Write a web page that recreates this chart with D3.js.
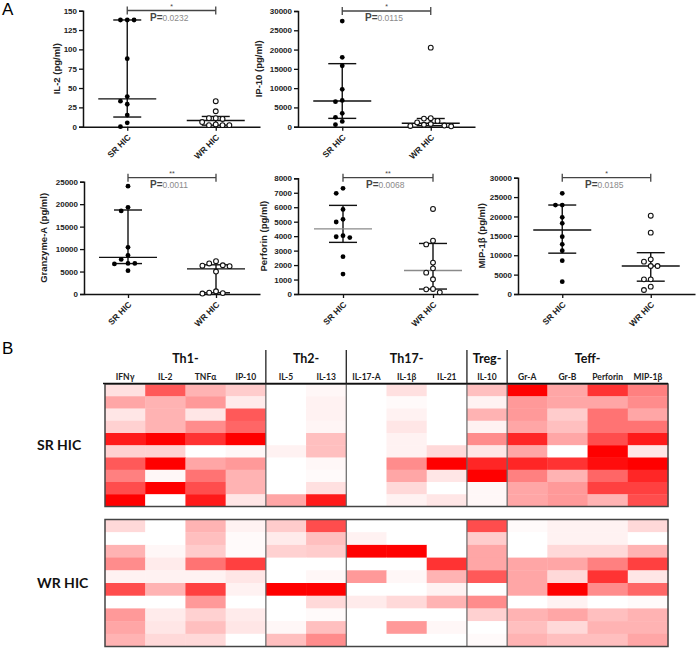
<!DOCTYPE html>
<html><head><meta charset="utf-8">
<script src="https://cdn.jsdelivr.net/npm/d3@7"></script>
<style>body{margin:0;background:#fff}svg{display:block}</style>
</head><body>
<svg id="c" width="696" height="650"></svg>
<script>
// ---------- Panel A data ----------
const groups = ["SR HIC", "WR HIC"];
const il2SR = [138, 138, 138, 88, 39, 33, 29, 15, 5, 0];
const il2WR = [33, 20, 11, 11, 10, 6, 3, 2, 2, 2];
const il2Ticks = [0, 25, 50, 75, 100, 125, 150];
const ip10SR = [27400, 17980, 15800, 9680, 6800, 6500, 3460, 2420, 1380, 520];
const ip10WR = [20500, 2200, 2100, 1500, 1100, 700, 500, 300, 200, 100];
const ip10Ticks = [0, 5000, 10000, 15000, 20000, 25000, 30000];
const grzSR = [24000, 19300, 18500, 10400, 8600, 7700, 6800, 6800, 6700, 5200];
const grzWR = [7300, 6800, 6400, 6300, 6200, 5000, 600, 300, 200, 100];
const grzTicks = [0, 5000, 10000, 15000, 20000, 25000];
const perfSR = [7310, 6960, 5850, 5160, 4980, 4030, 3960, 3900, 2580, 1380];
const perfWR = [5880, 3690, 3430, 2170, 1775, 1475, 1015, 350, 320, 115];
const perfTicks = [0, 1000, 2000, 3000, 4000, 5000, 6000, 7000, 8000];
const mipSR = [25960, 22950, 22950, 19770, 18220, 14790, 12810, 11180, 8600, 3180];
const mipWR = [20200, 15820, 8940, 8340, 7220, 7220, 3780, 3780, 1890, 1030];
const mipTicks = [0, 5000, 10000, 15000, 20000, 25000, 30000];
const yLabels = ["IL-2 (pg/ml)", "IP-10 (pg/ml)", "Granzyme-A (pg/ml)", "Perforin (pg/ml)", "MIP-1\u03B2 (pg/ml)"];
const pValues = ["0.0232", "0.0115", "0.0011", "0.0068", "0.0185"];
const stars = ["*", "*", "**", "**", "*"];

// ---------- Panel B data ----------
const heatCols = ["IFN\u03B3", "IL-2", "TNF\u03B1", "IP-10", "IL-5", "IL-13", "IL-17-A", "IL-1\u03B2", "IL-21", "IL-10", "Gr-A", "Gr-B", "Perforin", "MIP-1\u03B2"];
const heatGroupNames = ["Th1-", "Th2-", "Th17-", "Treg-", "Teff-"];
const heatGroupSizes = [4, 2, 3, 1, 4];
const heatRowGroups = ["SR HIC", "WR HIC"];
const srHeat = [
  [0.12, 0.65, 0.30, 0.20, 0.00, 0.03, 0.00, 0.12, 0.00, 0.25, 1.00, 0.35, 0.80, 0.50],
  [0.35, 0.30, 0.40, 0.08, 0.00, 0.05, 0.00, 0.02, 0.00, 0.05, 0.40, 0.35, 0.35, 0.45],
  [0.10, 0.30, 0.10, 0.65, 0.00, 0.05, 0.00, 0.05, 0.00, 0.30, 0.40, 0.20, 0.55, 0.35],
  [0.18, 0.30, 0.45, 0.60, 0.00, 0.04, 0.00, 0.10, 0.00, 0.05, 0.35, 0.25, 0.55, 0.55],
  [0.90, 1.00, 0.80, 1.00, 0.00, 0.25, 0.00, 0.05, 0.00, 0.45, 0.85, 0.35, 0.70, 0.90],
  [0.18, 0.18, 0.00, 0.03, 0.05, 0.25, 0.00, 0.05, 0.15, 0.10, 0.35, 0.00, 1.00, 0.10],
  [0.65, 1.00, 0.35, 0.40, 0.00, 0.03, 0.00, 0.45, 1.00, 0.85, 0.85, 0.80, 0.95, 1.00],
  [0.50, 0.03, 0.55, 0.30, 0.00, 0.02, 0.00, 0.35, 0.10, 1.00, 0.50, 0.30, 0.60, 0.85],
  [0.70, 1.00, 0.70, 0.30, 0.00, 0.12, 0.00, 0.15, 0.00, 0.03, 0.35, 0.40, 0.75, 0.75],
  [1.00, 0.00, 0.90, 0.10, 0.35, 0.90, 0.00, 0.05, 0.10, 0.03, 0.35, 0.40, 0.30, 0.70]
];
const wrHeat = [
  [0.15, 0.00, 0.30, 0.05, 0.20, 0.70, 0.00, 0.00, 0.00, 0.70, 0.02, 0.05, 0.05, 0.15],
  [0.00, 0.00, 0.25, 0.02, 0.08, 0.25, 0.05, 0.00, 0.00, 0.20, 0.00, 0.05, 0.05, 0.00],
  [0.30, 0.03, 0.20, 0.02, 0.18, 0.20, 1.00, 1.00, 0.00, 0.35, 0.00, 0.15, 0.15, 0.30],
  [0.45, 0.08, 0.55, 0.75, 0.00, 0.00, 0.00, 0.00, 0.80, 0.35, 0.35, 0.35, 0.50, 0.75],
  [0.05, 0.05, 0.05, 0.10, 0.00, 0.03, 0.40, 0.03, 0.30, 0.65, 0.35, 0.15, 0.80, 0.10],
  [0.70, 0.30, 0.75, 0.05, 1.00, 1.00, 0.00, 0.00, 0.05, 0.00, 0.35, 1.00, 0.45, 0.60],
  [0.00, 0.00, 0.40, 0.00, 0.00, 0.15, 0.08, 0.15, 0.30, 0.45, 0.00, 0.05, 0.00, 0.02],
  [0.40, 0.08, 0.18, 0.08, 0.00, 0.02, 0.00, 0.00, 0.00, 0.18, 0.30, 0.35, 0.25, 0.30],
  [0.35, 0.10, 0.25, 0.10, 0.03, 0.25, 0.00, 0.40, 0.03, 0.00, 0.25, 0.15, 0.30, 0.30],
  [0.30, 0.15, 0.15, 0.00, 0.25, 0.45, 0.00, 0.00, 0.00, 0.02, 0.30, 0.25, 0.25, 0.35]
];

// ---------- drawing ----------
const svg = d3.select("#c");
const SANS = "'Liberation Sans', Arial, sans-serif";
const CAL = "Lato, 'Open Sans', sans-serif";

svg.append("text").attr("x", 2).attr("y", 15).attr("font-family", SANS).attr("font-size", 17).text("A");
svg.append("text").attr("x", 2).attr("y", 354).attr("font-family", SANS).attr("font-size", 17).text("B");

const panels = [
  {sr: il2SR, wr: il2WR, ticks: il2Ticks, x: [83, 260], y: [126.7, 10.7], lx: 60, by: 10.5, px: 150, med: "#111"},
  {sr: ip10SR, wr: ip10WR, ticks: ip10Ticks, x: [298, 475], y: [126.7, 11], lx: 262, by: 11, px: 365, med: "#111"},
  {sr: grzSR, wr: grzWR, ticks: grzTicks, x: [84, 260], y: [294, 181.7], lx: 47, by: 177.7, px: 150, med: "#111"},
  {sr: perfSR, wr: perfWR, ticks: perfTicks, x: [298, 478], y: [294, 178.3], lx: 267, by: 177.7, px: 366, med: "#8a8a8a"},
  {sr: mipSR, wr: mipWR, ticks: mipTicks, x: [518, 695], y: [294, 177.7], lx: 485, by: 177.7, px: 585, med: "#111"}
];

function gpQuantile(vals, p) {
  const s = vals.slice().sort((a, b) => a - b);
  const n = s.length;
  let pos = (n + 1) * p;
  if (pos <= 1) return s[0];
  if (pos >= n) return s[n - 1];
  const lo = Math.floor(pos), f = pos - lo;
  return s[lo - 1] + f * (s[lo] - s[lo - 1]);
}

function swarm(vals, yS, cx, step, r) {
  const placed = [];
  return vals.map(v => {
    const py = yS(v);
    const offs = [0];
    for (let i = 1; i < 10; i++) offs.push(-i, i);
    let px = cx;
    for (const o of offs) {
      const cand = cx + o * step;
      const hit = placed.some(p => Math.abs(p.y - py) < 2 * r + 0.8 && Math.abs(p.x - cand) < step * 0.9);
      if (!hit) { px = cand; break; }
    }
    const pt = {x: px, y: py, v};
    placed.push(pt);
    return pt;
  });
}

panels.forEach((P, i) => {
  const g = svg.append("g");
  const x = d3.scalePoint().domain(groups).range(P.x).padding(0.5);
  const y = d3.scaleLinear().domain([0, d3.max(P.ticks)]).range(P.y);
  const y0 = y(0);

  // y axis
  const yAxis = d3.axisLeft(y).tickValues(P.ticks).tickFormat(d3.format("d")).tickSize(4).tickPadding(2);
  const ya = g.append("g").attr("transform", `translate(${P.x[0]},0)`).call(yAxis);
  ya.select(".domain").attr("stroke", "#111").attr("stroke-width", 1.5);
  ya.selectAll(".tick line").attr("stroke", "#111").attr("stroke-width", 1.3);
  ya.selectAll(".tick text").attr("font-family", SANS).attr("font-weight", "bold").attr("font-size", 8).attr("fill", "#222");

  // x axis
  const xAxis = d3.axisBottom(x).tickSize(4).tickSizeOuter(0).tickFormat("");
  const xa = g.append("g").attr("transform", `translate(0,${y0})`).call(xAxis);
  xa.select(".domain").attr("stroke", "#111").attr("stroke-width", 1.5);
  xa.selectAll(".tick line").attr("stroke", "#111").attr("stroke-width", 1.3);
  groups.forEach(gn => {
    const tx = x(gn) + 2, ty = y0 + 9;
    g.append("text").attr("transform", `translate(${tx},${ty}) rotate(-45)`)
      .attr("text-anchor", "end").attr("dy", "0.35em")
      .attr("font-family", SANS).attr("font-weight", "bold").attr("font-size", 8.5).attr("fill", "#222")
      .text(gn);
  });

  // y label
  g.append("text").attr("transform", `translate(${P.lx},${(P.y[0] + P.y[1]) / 2}) rotate(-90)`)
    .attr("text-anchor", "middle").attr("font-family", SANS).attr("font-weight", "bold")
    .attr("font-size", 9.5).attr("fill", "#222").text(yLabels[i]);

  // median + IQR
  [[P.sr, groups[0]], [P.wr, groups[1]]].forEach(([vals, gn]) => {
    const cx = x(gn);
    const q1 = gpQuantile(vals, 0.25), md = gpQuantile(vals, 0.5), q3 = gpQuantile(vals, 0.75);
    g.append("line").attr("x1", cx).attr("x2", cx).attr("y1", y(q1)).attr("y2", y(q3)).attr("stroke", "#111").attr("stroke-width", 1.4);
    g.append("line").attr("x1", cx - 14).attr("x2", cx + 14).attr("y1", y(q1)).attr("y2", y(q1)).attr("stroke", "#111").attr("stroke-width", 1.4);
    g.append("line").attr("x1", cx - 14).attr("x2", cx + 14).attr("y1", y(q3)).attr("y2", y(q3)).attr("stroke", "#111").attr("stroke-width", 1.4);
    g.append("line").attr("x1", cx - 29).attr("x2", cx + 29).attr("y1", y(md)).attr("y2", y(md)).attr("stroke", P.med).attr("stroke-width", 1.4);
  });

  // dots
  const r = 2.4;
  swarm(P.sr, y, x(groups[0]), 6.8, r).forEach(p => {
    g.append("circle").attr("cx", p.x).attr("cy", p.y).attr("r", r).attr("fill", "#000");
  });
  swarm(P.wr, y, x(groups[1]), 6.8, r).forEach(p => {
    g.append("circle").attr("cx", p.x).attr("cy", p.y).attr("r", r).attr("fill", "#fff").attr("stroke", "#111").attr("stroke-width", 1.1);
  });

  // significance bracket
  const xa1 = x(groups[0]), xa2 = x(groups[1]);
  g.append("line").attr("x1", xa1).attr("x2", xa2).attr("y1", P.by).attr("y2", P.by).attr("stroke", "#444").attr("stroke-width", 1.3);
  [xa1, xa2].forEach(xx => g.append("line").attr("x1", xx).attr("x2", xx).attr("y1", P.by - 4).attr("y2", P.by + 4).attr("stroke", "#444").attr("stroke-width", 1.3));
  g.append("text").attr("x", (xa1 + xa2) / 2).attr("y", P.by - 2).attr("text-anchor", "middle")
    .attr("font-family", SANS).attr("font-size", 7).attr("fill", "#444").text(stars[i]);
  const pt = g.append("text").attr("x", P.px).attr("y", P.by + 10).attr("font-family", SANS);
  pt.append("tspan").attr("font-size", 10).attr("font-weight", "bold").attr("fill", "#444").text("P=");
  pt.append("tspan").attr("font-size", 8.5).attr("fill", "#8a8a8a").text(pValues[i]);
});

// ---------- heatmap ----------
const color = d3.interpolateRgb("#ffffff", "#ff0000");
const hx = d3.scaleBand().domain(d3.range(heatCols.length)).range([105, 668]);
const blocks = [
  {data: srHeat, y: [384, 506.5], label: heatRowGroups[0]},
  {data: wrHeat, y: [519.5, 646.5], label: heatRowGroups[1]}
];
const hg = svg.append("g");
blocks.forEach(B => {
  const hy = d3.scaleBand().domain(d3.range(B.data.length)).range(B.y);
  B.data.forEach((row, ri) => row.forEach((v, ci) => {
    hg.append("rect").attr("x", hx(ci)).attr("y", hy(ri))
      .attr("width", hx.bandwidth() + 0.4).attr("height", hy.bandwidth() + 0.4)
      .attr("fill", color(v));
  }));
  let acc = 0;
  heatGroupSizes.slice(0, -1).forEach(n => {
    acc += n;
    const xx = hx(acc);
    hg.append("line").attr("x1", xx).attr("x2", xx).attr("y1", B.y[0]).attr("y2", B.y[1]).attr("stroke", "#666").attr("stroke-width", 1.2);
  });
  hg.append("rect").attr("x", 105).attr("y", B.y[0]).attr("width", 563).attr("height", B.y[1] - B.y[0])
    .attr("fill", "none").attr("stroke", "#444").attr("stroke-width", 1.5);
  hg.append("text").attr("x", 37).attr("y", (B.y[0] + B.y[1]) / 2 + 5)
    .attr("font-family", CAL).attr("font-weight", "bold").attr("font-size", 14).attr("fill", "#111").text(B.label);
});

// header
hg.append("line").attr("x1", 103).attr("x2", 668).attr("y1", 383.5).attr("y2", 383.5).attr("stroke", "#111").attr("stroke-width", 1.5);
let acc2 = 0;
heatGroupSizes.forEach((n, gi) => {
  const xStart = hx(acc2);
  acc2 += n;
  const xEnd = hx(acc2 - 1) + hx.bandwidth();
  hg.append("text").attr("x", (xStart + xEnd) / 2).attr("y", 362.5).attr("text-anchor", "middle")
    .attr("font-family", CAL).attr("font-weight", "bold").attr("font-size", 12.5).attr("fill", "#111").text(heatGroupNames[gi]);
  if (gi < heatGroupSizes.length - 1) {
    hg.append("line").attr("x1", xEnd).attr("x2", xEnd).attr("y1", 350).attr("y2", 384).attr("stroke", "#222").attr("stroke-width", 1.3);
  }
});
heatCols.forEach((c, ci) => {
  hg.append("text").attr("x", hx(ci) + hx.bandwidth() / 2).attr("y", 380).attr("text-anchor", "middle")
    .attr("font-family", CAL).attr("font-weight", "bold").attr("font-size", 8.5).attr("fill", "#222").text(c);
});
</script>
</body></html>
